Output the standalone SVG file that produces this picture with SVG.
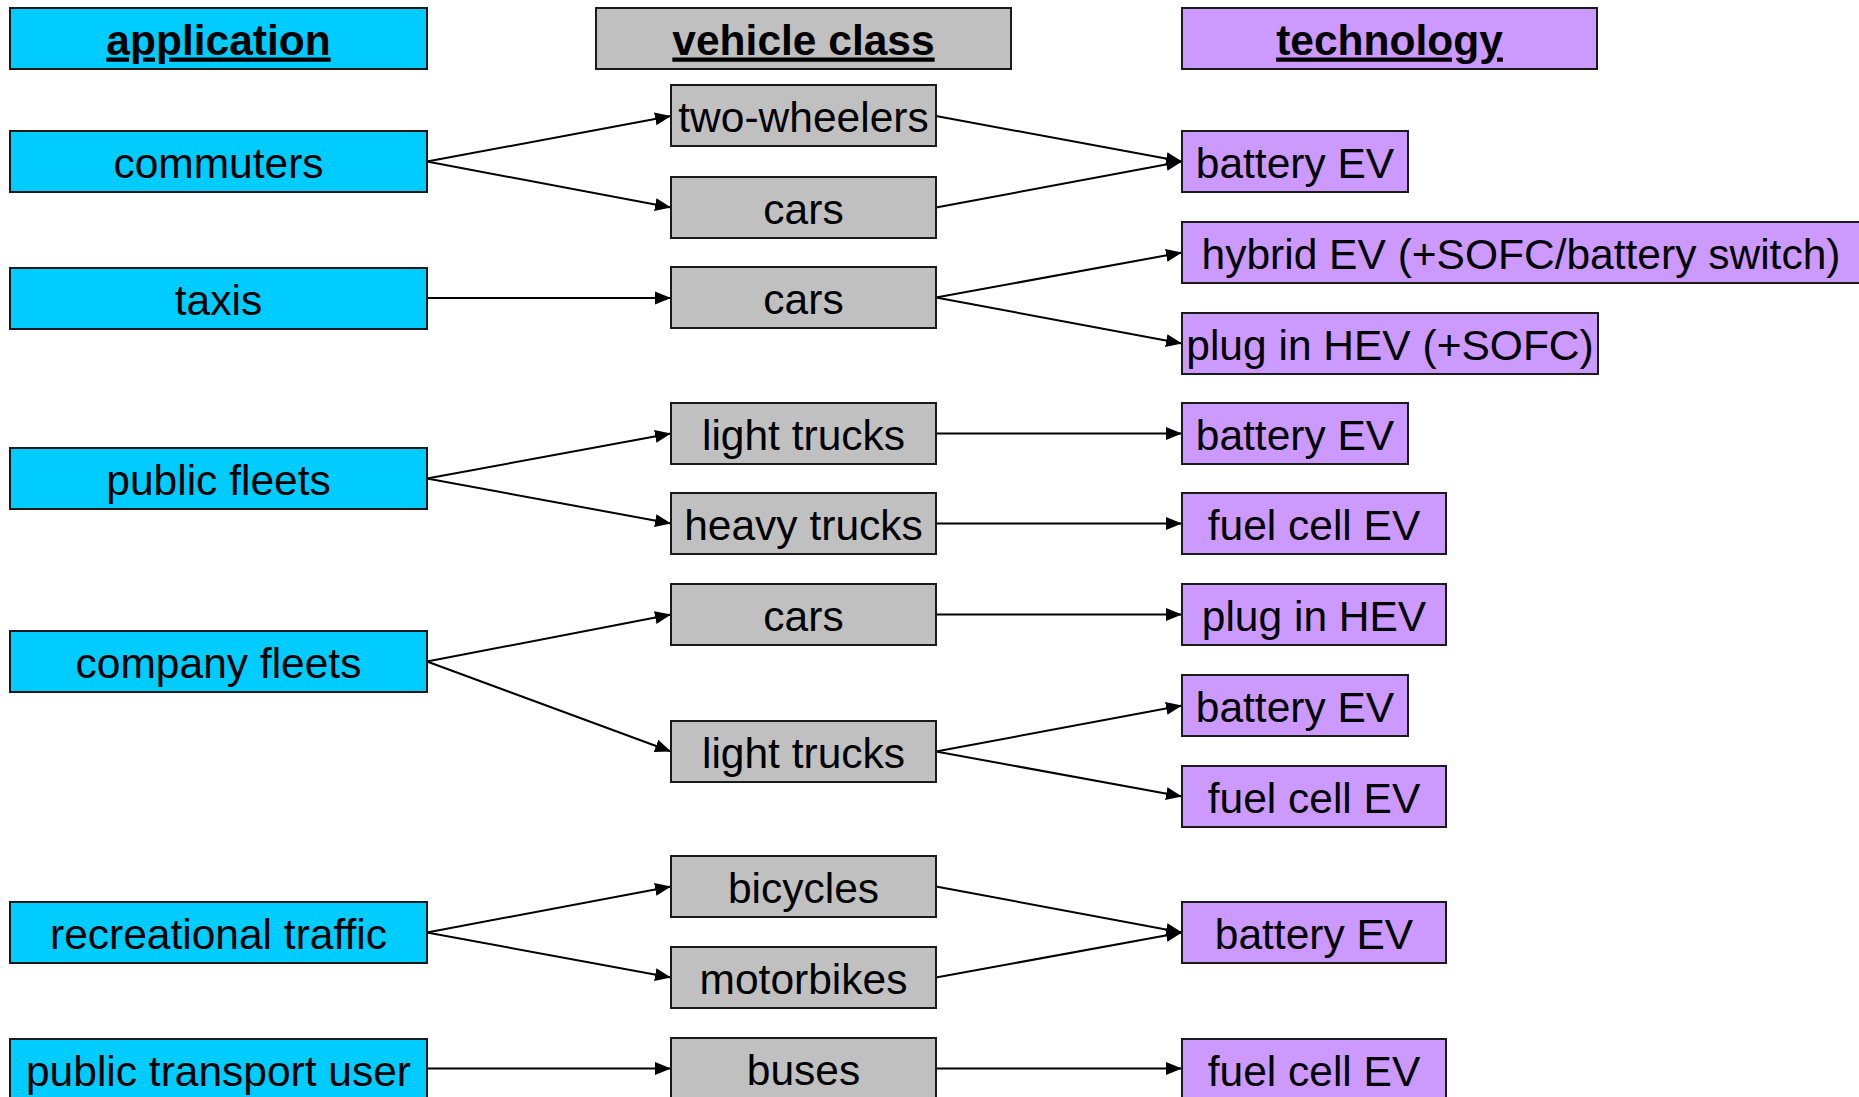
<svg xmlns="http://www.w3.org/2000/svg" width="1859" height="1097" viewBox="0 0 1859 1097">
<style>
rect{stroke:#1a1a1a;stroke-width:2}
.a{fill:#00CCFF}
.v{fill:#C0C0C0}
.t{fill:#CC99FF}
text{font-family:"Liberation Sans",Arial,sans-serif;font-size:42.5px;fill:#000;text-anchor:middle}
.h{font-weight:bold;text-decoration:underline}
#connectors line{stroke:#000;stroke-width:2;marker-end:url(#arr)}
</style>
<defs>
<marker id="arr" markerUnits="userSpaceOnUse" markerWidth="16" markerHeight="14" refX="16" refY="7" orient="auto">
<path d="M0,0.5 L16,7 L0,13.5 z" fill="#000"/>
</marker>
</defs>
<rect width="1859" height="1097" fill="#fff" style="stroke:none"/>
<g id="connectors">
<line x1="427" y1="161.5" x2="671" y2="116"/>
<line x1="427" y1="161.5" x2="671" y2="207.5"/>
<line x1="427" y1="298" x2="671" y2="298"/>
<line x1="427" y1="478.5" x2="671" y2="433.5"/>
<line x1="427" y1="478.5" x2="671" y2="523.5"/>
<line x1="427" y1="661.5" x2="671" y2="614.5"/>
<line x1="427" y1="661.5" x2="671" y2="751.5"/>
<line x1="427" y1="932.5" x2="671" y2="886.5"/>
<line x1="427" y1="932.5" x2="671" y2="977.5"/>
<line x1="427" y1="1068.5" x2="671" y2="1068.5"/>
<line x1="936" y1="116" x2="1182" y2="161.5"/>
<line x1="936" y1="207.5" x2="1182" y2="161.5"/>
<line x1="936" y1="297.5" x2="1182" y2="252.5"/>
<line x1="936" y1="297.5" x2="1182" y2="343.5"/>
<line x1="936" y1="433.5" x2="1182" y2="433.5"/>
<line x1="936" y1="523.5" x2="1182" y2="523.5"/>
<line x1="936" y1="614.5" x2="1182" y2="614.5"/>
<line x1="936" y1="751.5" x2="1182" y2="705.5"/>
<line x1="936" y1="751.5" x2="1182" y2="796.5"/>
<line x1="936" y1="886.5" x2="1182" y2="932.5"/>
<line x1="936" y1="977.5" x2="1182" y2="932.5"/>
<line x1="936" y1="1068.5" x2="1182" y2="1068.5"/>
</g>
<g id="h-application"><rect class="a" x="10" y="8" width="417" height="61"/><text class="h" x="218.5" y="54.5">application</text></g>
<g id="h-vehicle"><rect class="v" x="596" y="8" width="415" height="61"/><text class="h" x="803.5" y="54.5">vehicle class</text></g>
<g id="h-technology"><rect class="t" x="1182" y="8" width="415" height="61"/><text class="h" x="1389.5" y="54.5">technology</text></g>

<g id="a-commuters"><rect class="a" x="10" y="131" width="417" height="61"/><text x="218.5" y="178">commuters</text></g>
<g id="a-taxis"><rect class="a" x="10" y="268" width="417" height="61"/><text x="218.5" y="315">taxis</text></g>
<g id="a-public-fleets"><rect class="a" x="10" y="448" width="417" height="61"/><text x="218.5" y="495">public fleets</text></g>
<g id="a-company-fleets"><rect class="a" x="10" y="631" width="417" height="61"/><text x="218.5" y="678">company fleets</text></g>
<g id="a-recreational"><rect class="a" x="10" y="902" width="417" height="61"/><text x="218.5" y="949">recreational traffic</text></g>
<g id="a-public-transport"><rect class="a" x="10" y="1039" width="417" height="61"/><text x="218.5" y="1086">public transport user</text></g>

<g id="v-two-wheelers"><rect class="v" x="671" y="85" width="265" height="61"/><text x="803.5" y="132">two-wheelers</text></g>
<g id="v-cars1"><rect class="v" x="671" y="177" width="265" height="61"/><text x="803.5" y="224">cars</text></g>
<g id="v-cars2"><rect class="v" x="671" y="267" width="265" height="61"/><text x="803.5" y="314">cars</text></g>
<g id="v-light-trucks1"><rect class="v" x="671" y="403" width="265" height="61"/><text x="803.5" y="450">light trucks</text></g>
<g id="v-heavy-trucks"><rect class="v" x="671" y="493" width="265" height="61"/><text x="803.5" y="540">heavy trucks</text></g>
<g id="v-cars3"><rect class="v" x="671" y="584" width="265" height="61"/><text x="803.5" y="631">cars</text></g>
<g id="v-light-trucks2"><rect class="v" x="671" y="721" width="265" height="61"/><text x="803.5" y="768">light trucks</text></g>
<g id="v-bicycles"><rect class="v" x="671" y="856" width="265" height="61"/><text x="803.5" y="903">bicycles</text></g>
<g id="v-motorbikes"><rect class="v" x="671" y="947" width="265" height="61"/><text x="803.5" y="994">motorbikes</text></g>
<g id="v-buses"><rect class="v" x="671" y="1038" width="265" height="61"/><text x="803.5" y="1085">buses</text></g>

<g id="t-battery1"><rect class="t" x="1182" y="131" width="226" height="61"/><text x="1295" y="178">battery EV</text></g>
<g id="t-hybrid"><rect class="t" x="1182" y="222" width="680" height="61"/><text x="1521" y="269">hybrid EV (+SOFC/battery switch)</text></g>
<g id="t-plugsofc"><rect class="t" x="1182" y="313" width="416" height="61"/><text x="1390" y="360">plug in HEV (+SOFC)</text></g>
<g id="t-battery2"><rect class="t" x="1182" y="403" width="226" height="61"/><text x="1295" y="450">battery EV</text></g>
<g id="t-fuel1"><rect class="t" x="1182" y="493" width="264" height="61"/><text x="1314" y="540">fuel cell EV</text></g>
<g id="t-plug"><rect class="t" x="1182" y="584" width="264" height="61"/><text x="1314" y="631">plug in HEV</text></g>
<g id="t-battery3"><rect class="t" x="1182" y="675" width="226" height="61"/><text x="1295" y="722">battery EV</text></g>
<g id="t-fuel2"><rect class="t" x="1182" y="766" width="264" height="61"/><text x="1314" y="813">fuel cell EV</text></g>
<g id="t-battery4"><rect class="t" x="1182" y="902" width="264" height="61"/><text x="1314" y="949">battery EV</text></g>
<g id="t-fuel3"><rect class="t" x="1182" y="1039" width="264" height="61"/><text x="1314" y="1086">fuel cell EV</text></g>
</svg>
